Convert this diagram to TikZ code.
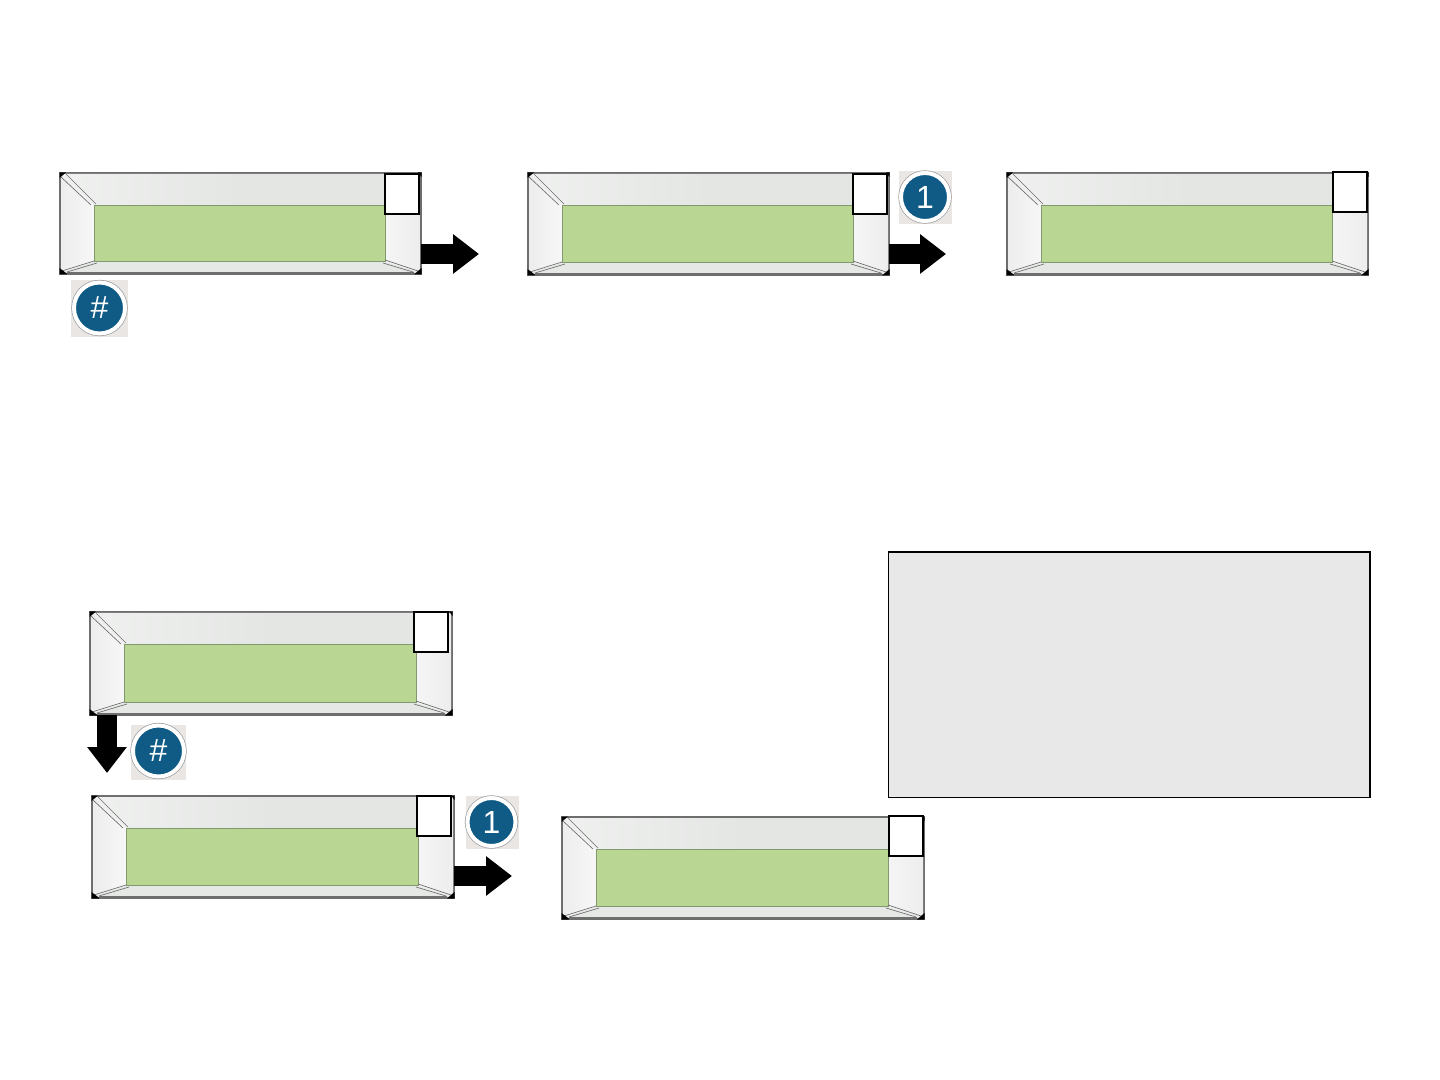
\documentclass[tikz,border=0pt]{standalone}
\usepackage{fontspec}
\setmainfont{Liberation Sans}
\usetikzlibrary{arrows.meta}
\definecolor{lcdgreen}{HTML}{B9D793}
\definecolor{lcdedge}{HTML}{82996F}
\definecolor{bevtop}{HTML}{E4E6E4}
\definecolor{bevside}{HTML}{ECEDEC}
\definecolor{bevbot}{HTML}{E6E8E6}
\definecolor{rimgrey}{HTML}{6E6E6E}
\definecolor{keyblue}{HTML}{0F5B86}
\definecolor{keyback}{HTML}{E9E6E4}
\definecolor{notegrey}{HTML}{E8E8E8}
\tikzset{
  panel/.style={draw=rimgrey,line width=1pt,fill=bevtop,inner sep=0pt,outer sep=0pt,anchor=north west},
  screen/.style={draw=lcdedge,line width=.7pt,fill=lcdgreen,inner sep=0pt,outer sep=0pt,anchor=north west},
  square/.style={draw=black,line width=1.5pt,fill=white,inner sep=0pt,outer sep=0pt,anchor=north west,minimum width=25.5pt,minimum height=29.6pt},
  bevelline/.style={draw=rimgrey,line width=.5pt},
  blockarrow/.style={line width=15.5pt,draw=black,-{Triangle[length=19.5pt,width=28.5pt]}},
  keybox/.style={fill=keyback,inner sep=0pt,minimum size=#1*.75pt},
  keyring/.style={circle,draw=white,line width=3pt,fill=keyblue,text=white,inner sep=0pt,minimum size=#1*.75pt,font=\fontsize{24}{24}\selectfont,
    preaction={draw=black!40,line width=4pt}},
  notebox/.style={draw=black,line width=1.4pt,fill=notegrey,inner sep=0pt,outer sep=0pt,anchor=north west}
}
% name, x0, y0, x1, y1 in reference pixels
\newcommand{\lcdpanel}[5]{%
  \pgfmathsetmacro{\pw}{(#4-#2)*.75}\pgfmathsetmacro{\ph}{(#5-#3)*.75}%
  \node[panel,minimum width=\pw pt,minimum height=\ph pt] (#1) at (#2,#3) {};
  \shade[left color=white!40!bevtop,right color=bevtop,middle color=bevtop] (#2+1,#3+1) -- (#4-1,#3+1) -- (#4-36,#3+32) -- (#2+34,#3+32) -- cycle;
  \shade[left color=bevside,right color=white!55!bevside] (#2+1,#3+1) -- (#2+34,#3+32) -- (#2+34,#5-12) -- (#2+1,#5-1) -- cycle;
  \shade[left color=white!45!bevside,right color=bevside] (#4-1,#3+1) -- (#4-36,#3+32) -- (#4-36,#5-12) -- (#4-1,#5-1) -- cycle;
  \fill[bevbot] (#2+1,#5-1) -- (#2+34,#5-12) -- (#4-36,#5-12) -- (#4-1,#5-1) -- cycle;
  \pgfmathsetmacro{\sw}{(#4-#2-70)*.75}\pgfmathsetmacro{\sh}{(#5-#3-45)*.75}%
  \node[screen,minimum width=\sw pt,minimum height=\sh pt] (#1s) at (#2+34,#3+32) {};
  \draw[bevelline] (#2+1,#3+4) -- (#2+31,#3+32) (#2+6,#3+1) -- (#2+36,#3+31);
  \draw[bevelline] (#2+2,#5-3) -- (#2+34,#5-13) (#2+7,#5-2) -- (#2+37,#5-11);
  \draw[bevelline] (#4-3,#5-3) -- (#4-36,#5-14) (#4-8,#5-2) -- (#4-38,#5-11);
  \fill[black] (#2-.5,#3-.5) -- (#2+6,#3-.5) -- (#2-.5,#3+5) -- cycle;
  \fill[black] (#2-.5,#5+.5) -- (#2+8,#5+.5) -- (#2-.5,#5-6) -- cycle;
  \fill[black] (#4+.5,#5+.5) -- (#4-7,#5+.5) -- (#4+.5,#5-6) -- cycle;
  \fill[black] (#4+.5,#3-.5) -- (#4-3,#3-.5) -- (#4+.5,#3+4) -- cycle;
  \draw[rimgrey,line width=2pt] (#2+7,#5-.8) -- (#4-7,#5-.8);
}
\begin{document}
\begin{tikzpicture}[x=.75pt,y=-.75pt]
\useasboundingbox (0,0) rectangle (1440,1080);
\fill[white] (0,0) rectangle (1440,1080);

\lcdpanel{pa}{60}{173}{421}{274}
\lcdpanel{pb}{528}{173}{889}{275}
\lcdpanel{pc}{1007}{173}{1368}{275}
\lcdpanel{pd}{90}{612}{452}{715}
\lcdpanel{pe}{92}{796}{454}{898}
\lcdpanel{pf}{562}{817}{924}{919}

\node[square] (qa) at (385.3,174.3) {};
\node[square] (qb) at (852.8,174.3) {};
\node[square] (qc) at (1332.8,172.3) {};
\node[square] (qd) at (414.3,612.3) {};
\node[square] (qe) at (417.3,796.3) {};
\node[square] (qf) at (889.3,816.3) {};

\node[notebox,minimum width=361.1pt,minimum height=184.1pt] (note) at (888.5,552) {};

\coordinate (aa) at (421,254); \coordinate (ab) at (479,254);
\coordinate (ba) at (889,254); \coordinate (bb) at (946,254);
\coordinate (da) at (107,715); \coordinate (db) at (107,773);
\coordinate (ea) at (454,876); \coordinate (eb) at (512,876);
\draw[blockarrow] (aa) -- (ab);
\draw[blockarrow] (ba) -- (bb);
\draw[blockarrow] (da) -- (db);
\draw[blockarrow] (ea) -- (eb);

\node[keybox=57] (ka) at (99.5,309) {};
\node[keyring=51] (kat) at (99.5,308) {\#};
\node[keybox=53] (kb) at (925,197.5) {};
\node[keyring=48] (kbt) at (925,197) {1};
\node[keybox=55] (kd) at (158.5,752) {};
\node[keyring=51] (kdt) at (158.5,751) {\#};
\node[keybox=53] (ke) at (492.5,822) {};
\node[keyring=48] (ket) at (491.5,822) {1};
\end{tikzpicture}
\end{document}
